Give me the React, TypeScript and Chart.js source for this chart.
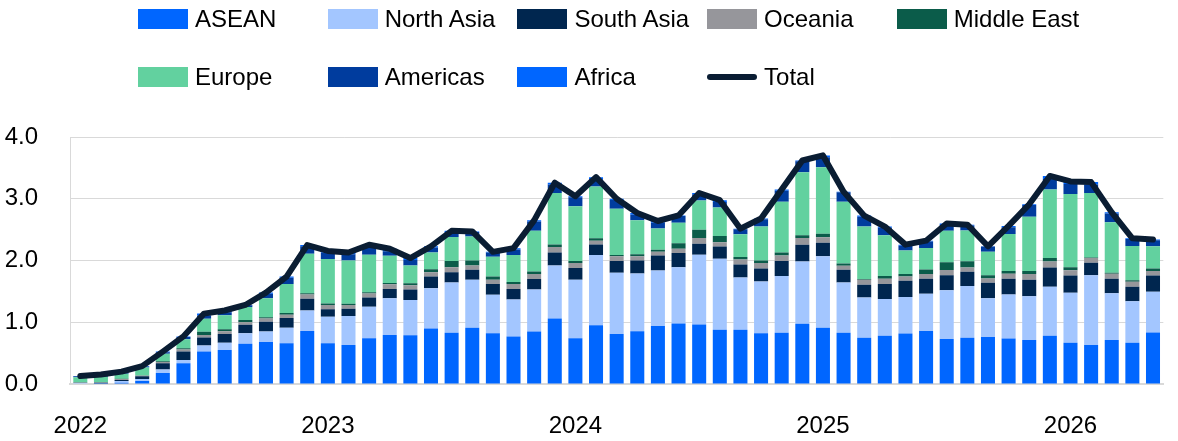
import { useEffect, useRef } from 'react';
import { Chart, registerables } from 'chart.js';

Chart.register(...registerables);

const months = [
  '2022-01','2022-02','2022-03','2022-04','2022-05','2022-06','2022-07','2022-08','2022-09','2022-10','2022-11','2022-12',
  '2023-01','2023-02','2023-03','2023-04','2023-05','2023-06','2023-07','2023-08','2023-09','2023-10','2023-11','2023-12',
  '2024-01','2024-02','2024-03','2024-04','2024-05','2024-06','2024-07','2024-08','2024-09','2024-10','2024-11','2024-12',
  '2025-01','2025-02','2025-03','2025-04','2025-05','2025-06','2025-07','2025-08','2025-09','2025-10','2025-11','2025-12',
  '2026-01','2026-02','2026-03','2026-04','2026-05',
];

const asean = [
  0.01, 0.005, 0.02, 0.05, 0.18, 0.335, 0.525, 0.55, 0.65, 0.68, 0.66, 0.86,
  0.66, 0.63, 0.74, 0.795, 0.79, 0.90, 0.83, 0.91, 0.82, 0.77, 0.85, 1.06,
  0.74, 0.95, 0.81, 0.855, 0.94, 0.98, 0.963, 0.877, 0.88, 0.82, 0.83, 0.974,
  0.91, 0.83, 0.747, 0.78, 0.817, 0.86, 0.73, 0.747, 0.763, 0.736, 0.714, 0.78,
  0.666, 0.633, 0.714, 0.666, 0.833,
];
const northAsia = [
  0.005, 0.005, 0.03, 0.03, 0.055, 0.055, 0.10, 0.12, 0.17, 0.17, 0.25, 0.33,
  0.43, 0.47, 0.51, 0.595, 0.57, 0.65, 0.815, 0.78, 0.625, 0.60, 0.68, 0.86,
  0.95, 1.14, 0.99, 0.935, 0.90, 0.91, 1.13, 1.15, 0.846, 0.84, 0.92, 1.01,
  1.157, 0.815, 0.653, 0.595, 0.59, 0.60, 0.79, 0.84, 0.627, 0.714, 0.706, 0.795,
  0.81, 1.127, 0.756, 0.674, 0.66,
];
const southAsia = [
  0.005, 0.01, 0.015, 0.045, 0.10, 0.135, 0.13, 0.14, 0.14, 0.16, 0.16, 0.19,
  0.12, 0.12, 0.15, 0.15, 0.17, 0.19, 0.165, 0.16, 0.175, 0.17, 0.17, 0.21,
  0.19, 0.17, 0.19, 0.21, 0.24, 0.23, 0.18, 0.20, 0.21, 0.21, 0.24, 0.27,
  0.22, 0.205, 0.207, 0.245, 0.265, 0.245, 0.24, 0.23, 0.25, 0.255, 0.27, 0.31,
  0.28, 0.204, 0.235, 0.235, 0.266,
];
const oceania = [
  0.003, 0.005, 0.015, 0.008, 0.02, 0.035, 0.04, 0.045, 0.04, 0.05, 0.05, 0.07,
  0.07, 0.06, 0.065, 0.075, 0.07, 0.07, 0.08, 0.07, 0.07, 0.08, 0.08, 0.09,
  0.08, 0.06, 0.08, 0.07, 0.06, 0.07, 0.09, 0.07, 0.08, 0.09, 0.09, 0.11,
  0.09, 0.065, 0.08, 0.085, 0.07, 0.075, 0.086, 0.07, 0.07, 0.08, 0.09, 0.10,
  0.086, 0.076, 0.08, 0.08, 0.07,
];
const middleEast = [
  0.002, 0.003, 0.005, 0.005, 0.015, 0.02, 0.05, 0.03, 0.035, 0.02, 0.03, 0.02,
  0.025, 0.02, 0.02, 0.02, 0.03, 0.05, 0.10, 0.08, 0.05, 0.03, 0.04, 0.04,
  0.03, 0.04, 0.02, 0.03, 0.035, 0.09, 0.135, 0.10, 0.04, 0.04, 0.05, 0.045,
  0.055, 0.035, 0.015, 0.045, 0.04, 0.076, 0.124, 0.10, 0.05, 0.045, 0.05, 0.055,
  0.05, 0.01, 0.015, 0.025, 0.04,
];
const europe = [
  0.085, 0.09, 0.08, 0.13, 0.12, 0.145, 0.21, 0.23, 0.21, 0.31, 0.47, 0.64,
  0.72, 0.70, 0.61, 0.44, 0.29, 0.27, 0.39, 0.39, 0.32, 0.44, 0.66, 0.835,
  0.89, 0.84, 0.75, 0.55, 0.345, 0.33, 0.475, 0.46, 0.37, 0.55, 0.82, 1.02,
  1.08, 1.0, 0.85, 0.66, 0.38, 0.345, 0.51, 0.50, 0.38, 0.60, 0.88, 1.11,
  1.185, 1.045, 0.82, 0.555, 0.36,
];
const americas = [
  0.015, 0.025, 0.025, 0.015, 0.025, 0.035, 0.055, 0.045, 0.03, 0.07, 0.10, 0.12,
  0.10, 0.10, 0.13, 0.075, 0.09, 0.08, 0.06, 0.07, 0.07, 0.09, 0.15, 0.135,
  0.145, 0.11, 0.14, 0.09, 0.09, 0.11, 0.10, 0.09, 0.08, 0.12, 0.18, 0.18,
  0.16, 0.155, 0.155, 0.12, 0.075, 0.105, 0.09, 0.08, 0.085, 0.11, 0.19, 0.17,
  0.163, 0.135, 0.14, 0.115, 0.10,
];
const africa = [
  0.005, 0.01, 0.01, 0.007, 0.01, 0.01, 0.03, 0.03, 0.005, 0.02, 0.02, 0.02,
  0.03, 0.03, 0.03, 0.04, 0.03, 0.02, 0.04, 0.01, 0.01, 0.02, 0.02, 0.03,
  0.015, 0.04, 0.02, 0.03, 0.03, 0.01, 0.02, 0.03, 0.01, 0.01, 0.02, 0.01,
  0.03, 0.01, 0.02, 0.02, 0.02, 0.015, 0.03, 0.013, 0.005, 0.02, 0.01, 0.05,
  0.04, 0.04, 0.02, 0.01, 0.01,
];

const yTicks = [0, 1, 2, 3, 4];

const seriesNames = ['ASEAN', 'North Asia', 'South Asia', 'Oceania', 'Middle East', 'Europe', 'Americas', 'Africa'];
const seriesData = [asean, northAsia, southAsia, oceania, middleEast, europe, americas, africa];
const seriesColors = ['#0066FF', '#A3C6FF', '#00264F', '#96969B', '#0B5C4A', '#62D19F', '#003C9E', '#0066FF'];
const totalName = 'Total';
const totalColor = '#0A1D33';

const total = months.map((_, i) => seriesData.reduce((s, arr) => s + arr[i], 0));

const FONT = "'Liberation Sans', Arial, sans-serif";

const legendRows = [
  [0, 1, 2, 3, 4],
  [5, 6, 7, -1],
];

export default function App() {
  const ref = useRef<HTMLCanvasElement | null>(null);

  useEffect(() => {
    const prev = document.body.style.margin;
    document.body.style.margin = '0';
    const canvas = ref.current;
    if (!canvas) return;
    const chart = new Chart(canvas, {
      type: 'bar',
      data: {
        labels: months,
        datasets: [
          ...seriesNames.map((name, k) => ({
            type: 'bar' as const,
            label: name,
            data: seriesData[k],
            backgroundColor: seriesColors[k],
            borderWidth: 0,
            stack: 'regions',
            order: 1,
            categoryPercentage: 1,
            barPercentage: 0.68,
          })),
          {
            type: 'line' as const,
            label: totalName,
            data: total,
            borderColor: totalColor,
            backgroundColor: totalColor,
            borderWidth: 6,
            pointRadius: 0,
            pointHoverRadius: 0,
            tension: 0,
            borderCapStyle: 'round',
            borderJoinStyle: 'round',
            stack: 'total',
            order: 0,
          } as any,
        ],
      },
      options: {
        responsive: false,
        animation: false,
        layout: { padding: { top: 137, left: 0, right: 0, bottom: 0 } },
        plugins: { legend: { display: false }, tooltip: { enabled: false } },
        scales: {
          x: {
            stacked: true,
            afterFit: (scale: any) => { scale.height = 57; },
            grid: { display: false, drawTicks: false },
            border: { display: true, color: '#D9D9D9', width: 2 },
            ticks: {
              autoSkip: false,
              maxRotation: 0,
              minRotation: 0,
              padding: 28,
              color: '#000',
              font: { family: FONT, size: 24 },
              callback: (_v: any, i: number) => (months[i].endsWith('-01') ? months[i].slice(0, 4) : ''),
            },
          },
          y: {
            stacked: true,
            min: yTicks[0],
            max: yTicks[yTicks.length - 1],
            afterFit: (scale: any) => { scale.width = 70; },
            afterBuildTicks: (scale: any) => { scale.ticks = yTicks.map((v) => ({ value: v })); },
            grid: { color: '#D9D9D9', lineWidth: 1, drawTicks: false },
            border: { display: true, color: '#D9D9D9', width: 1 },
            ticks: {
              padding: 32,
              color: '#000',
              font: { family: FONT, size: 24 },
              callback: (v: any) => Number(v).toFixed(1),
            },
          },
        },
      },
    });
    return () => {
      chart.destroy();
      document.body.style.margin = prev;
    };
  }, []);

  const rowTops = [9, 67];
  const colLeft = (c: number) => 138 + 189.7 * c;

  return (
    <div style={{ position: 'fixed', left: 0, top: 0, width: 1178, height: 441, overflow: 'hidden', background: '#fff' }}>
      <canvas ref={ref} width={1181} height={441} style={{ position: 'absolute', left: 0, top: 0 }} />
      {legendRows.map((row, r) =>
        row.map((k, c) => {
          const isLine = k < 0;
          const name = isLine ? totalName : seriesNames[k];
          const color = isLine ? totalColor : seriesColors[k];
          return (
            <div
              key={`${r}-${c}`}
              style={{
                position: 'absolute',
                left: colLeft(c),
                top: rowTops[r],
                height: 20,
                display: 'flex',
                alignItems: 'center',
                fontFamily: FONT,
                fontSize: 24,
                color: '#000',
                whiteSpace: 'nowrap',
              }}
            >
              {isLine ? (
                <span style={{ display: 'inline-block', width: 50, height: 6, borderRadius: 3, background: color, marginRight: 7 }} />
              ) : (
                <span style={{ display: 'inline-block', width: 50, height: 20, background: color, marginRight: 7 }} />
              )}
              <span style={{ lineHeight: '20px' }}>{name}</span>
            </div>
          );
        })
      )}
    </div>
  );
}
